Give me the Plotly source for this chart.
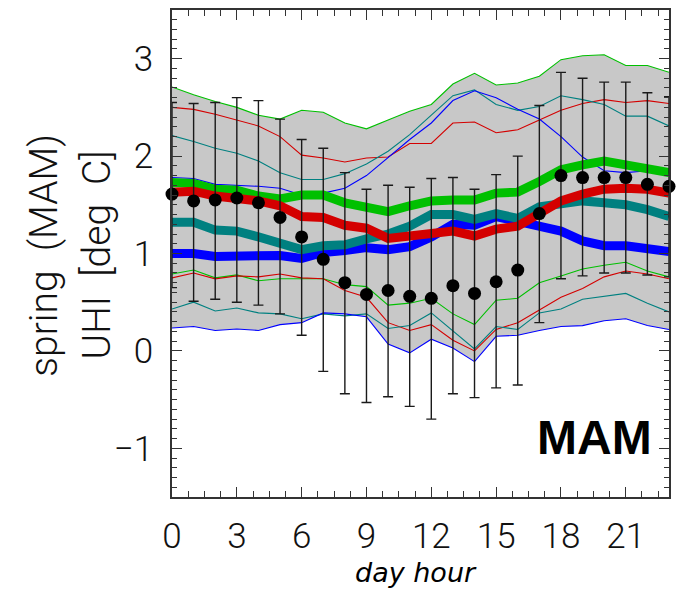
import plotly.graph_objects as go

hours = list(range(24))

# black dots (observed UHI) with asymmetric error bars
obs = [1.61, 1.54, 1.55, 1.57, 1.52, 1.37, 1.17, 0.94, 0.70, 0.58, 0.62, 0.56,
       0.54, 0.67, 0.59, 0.71, 0.83, 1.41, 1.80, 1.78, 1.78, 1.78, 1.71, 1.69]
obs_top = [2.55, 2.54, 2.55, 2.60, 2.57, 2.38, 2.17, 2.08, 1.83, 1.66, 1.70, 1.68,
           1.77, 1.78, 1.66, 1.81, 2.00, 2.52, 2.86, 2.80, 2.76, 2.76, 2.65, 2.61]
obs_bot = [0.65, 0.51, 0.53, 0.50, 0.47, 0.38, 0.16, -0.21, -0.44, -0.53, -0.47, -0.57,
           -0.70, -0.44, -0.48, -0.38, -0.35, 0.29, 0.74, 0.77, 0.80, 0.80, 0.78, 0.76]

# thick model lines
green_mid = [1.73, 1.72, 1.66, 1.65, 1.59, 1.56, 1.60, 1.60, 1.52, 1.47, 1.43, 1.49,
             1.54, 1.55, 1.55, 1.62, 1.63, 1.74, 1.86, 1.91, 1.95, 1.91, 1.88, 1.83]
red_mid = [1.63, 1.64, 1.59, 1.57, 1.54, 1.49, 1.38, 1.37, 1.29, 1.26, 1.155, 1.18,
           1.20, 1.23, 1.18, 1.25, 1.28, 1.42, 1.54, 1.61, 1.66, 1.67, 1.66, 1.62]
teal_mid = [1.32, 1.32, 1.24, 1.23, 1.17, 1.11, 1.04, 1.08, 1.09, 1.15, 1.20, 1.28,
            1.40, 1.40, 1.35, 1.41, 1.36, 1.48, 1.52, 1.54, 1.52, 1.50, 1.45, 1.38]
blue_mid = [1.00, 1.00, 0.97, 0.97, 0.96, 0.98, 0.95, 1.01, 1.03, 1.06, 1.04, 1.07,
            1.17, 1.30, 1.29, 1.38, 1.33, 1.29, 1.23, 1.13, 1.08, 1.08, 1.06, 1.02]

# thin upper lines
green_hi = [2.71, 2.63, 2.56, 2.50, 2.42, 2.38, 2.47, 2.45, 2.34, 2.28, 2.37, 2.46,
            2.53, 2.74, 2.85, 2.73, 2.75, 2.82, 2.99, 3.03, 3.04, 2.93, 2.93, 2.86]
red_hi = [2.50, 2.48, 2.43, 2.37, 2.31, 2.20, 2.01, 1.98, 1.94, 1.98, 1.99, 2.13,
          2.13, 2.34, 2.35, 2.24, 2.27, 2.37, 2.47, 2.54, 2.58, 2.55, 2.57, 2.54]
teal_hi = [2.21, 2.15, 2.08, 2.03, 1.95, 1.83, 1.76, 1.76, 1.82, 1.92, 2.05, 2.22,
           2.42, 2.62, 2.68, 2.53, 2.47, 2.51, 2.62, 2.58, 2.53, 2.41, 2.41, 2.31]
blue_hi = [1.78, 1.77, 1.71, 1.70, 1.69, 1.67, 1.60, 1.62, 1.67, 1.80, 1.99, 2.17,
           2.34, 2.57, 2.67, 2.60, 2.48, 2.38, 2.20, 1.99, 1.85, 1.83, 1.85, 1.80]

# thin lower lines
green_lo = [0.79, 0.83, 0.75, 0.78, 0.72, 0.74, 0.74, 0.74, 0.68, 0.66, 0.47, 0.49,
            0.54, 0.38, 0.27, 0.52, 0.54, 0.70, 0.77, 0.84, 0.88, 0.91, 0.82, 0.76]
red_lo = [0.75, 0.80, 0.74, 0.77, 0.76, 0.79, 0.75, 0.74, 0.62, 0.55, 0.29, 0.21,
          0.27, 0.11, 0.00, 0.22, 0.29, 0.42, 0.55, 0.64, 0.76, 0.82, 0.79, 0.74]
teal_lo = [0.43, 0.50, 0.41, 0.44, 0.39, 0.38, 0.33, 0.38, 0.36, 0.38, 0.23, 0.26,
           0.39, 0.21, 0.02, 0.25, 0.22, 0.39, 0.43, 0.53, 0.56, 0.59, 0.49, 0.40]
blue_lo = [0.235, 0.25, 0.21, 0.225, 0.21, 0.27, 0.29, 0.39, 0.38, 0.35, 0.07, -0.02,
           0.12, 0.03, -0.11, 0.15, 0.16, 0.21, 0.25, 0.26, 0.31, 0.33, 0.26, 0.22]

x_ticks = [0, 3, 6, 9, 12, 15, 18, 21]
y_ticks = [-1, 0, 1, 2, 3]

GREEN = "#00c000"
RED = "#d40000"
TEAL = "#008080"
BLUE = "#0000ff"

fig = go.Figure()

# grey envelope
fig.add_trace(go.Scatter(x=hours, y=blue_lo, mode="lines",
                         line=dict(width=0, color="rgba(0,0,0,0)"), showlegend=False,
                         hoverinfo="skip"))
fig.add_trace(go.Scatter(x=hours, y=green_hi, mode="lines",
                         line=dict(width=0, color="rgba(0,0,0,0)"), fill="tonexty",
                         fillcolor="#c8c8c8", showlegend=False, hoverinfo="skip"))

# thin lines
for arr, col in [(green_hi, GREEN), (red_hi, RED), (teal_hi, TEAL), (blue_hi, BLUE),
                 (green_lo, GREEN), (red_lo, RED), (teal_lo, TEAL), (blue_lo, BLUE)]:
    fig.add_trace(go.Scatter(x=hours, y=arr, mode="lines",
                             line=dict(width=1.1, color=col), showlegend=False))

# thick lines
for arr, col in [(blue_mid, BLUE), (teal_mid, TEAL), (green_mid, GREEN), (red_mid, RED)]:
    fig.add_trace(go.Scatter(x=hours, y=arr, mode="lines",
                             line=dict(width=9, color=col), showlegend=False))

# observations with error bars
err_plus = [t - o for t, o in zip(obs_top, obs)]
err_minus = [o - b for o, b in zip(obs, obs_bot)]
fig.add_trace(go.Scatter(
    x=hours, y=obs, mode="markers",
    marker=dict(size=13, color="black"),
    error_y=dict(type="data", symmetric=False, array=err_plus, arrayminus=err_minus,
                 color="#1a1a1a", thickness=1.4, width=5),
    showlegend=False, cliponaxis=False))

tick_font = dict(family="Roboto", size=35, color="#111111", weight=300)
title_font = dict(family="Roboto", size=39, color="#111111", weight=300)

fig.update_layout(
    width=679, height=592,
    margin=dict(l=172, r=9, t=8, b=95),
    paper_bgcolor="white", plot_bgcolor="white",
    xaxis=dict(range=[0, 23], tickmode="array", tickvals=x_ticks,
               ticktext=[str(v) for v in x_ticks],
               ticks="inside", ticklen=10, tickwidth=1.2, tickcolor="#333",
               mirror="allticks", showline=True, linecolor="#333", linewidth=1.5,
               showgrid=False, zeroline=False, tickfont=tick_font,
               ticklabelstandoff=7,
               minor=dict(dtick=0.75, tick0=0, ticks="inside", ticklen=6,
                          tickwidth=1.0, tickcolor="#333", showgrid=False)),
    yaxis=dict(range=[-1.5, 3.5], tickmode="array", tickvals=y_ticks,
               ticktext=[str(v) if v >= 0 else "\u22121" for v in y_ticks],
               ticks="inside", ticklen=10, tickwidth=1.2, tickcolor="#333",
               mirror="allticks", showline=True, linecolor="#333", linewidth=1.5,
               showgrid=False, zeroline=False, tickfont=tick_font,
               ticklabelstandoff=10,
               minor=dict(dtick=0.1, tick0=0, ticks="inside", ticklen=5,
                          tickwidth=1.0, tickcolor="#333", showgrid=False)),
    annotations=[
        dict(text="spring\u00a0\u00a0(MAM)", xref="paper", yref="paper", x=-0.258, y=0.497,
             textangle=-90, showarrow=False, xanchor="center", yanchor="middle",
             font=title_font),
        dict(text="UHI\u00a0\u00a0[deg\u00a0\u00a0C]", xref="paper", yref="paper", x=-0.15, y=0.497,
             textangle=-90, showarrow=False, xanchor="center", yanchor="middle",
             font=title_font),
        dict(text="<i>day hour</i>", xref="paper", yref="paper", x=0.49, y=-0.19,
             showarrow=False, xanchor="center", yanchor="bottom",
             font=dict(family="DejaVu Sans", size=27, color="black")),
        dict(text="<b>MAM</b>", xref="paper", yref="paper", x=0.97, y=0.123,
             showarrow=False, xanchor="right", yanchor="middle",
             font=dict(family="Liberation Sans", size=48, color="black")),
    ],
)

fig.write_html("out.html")
